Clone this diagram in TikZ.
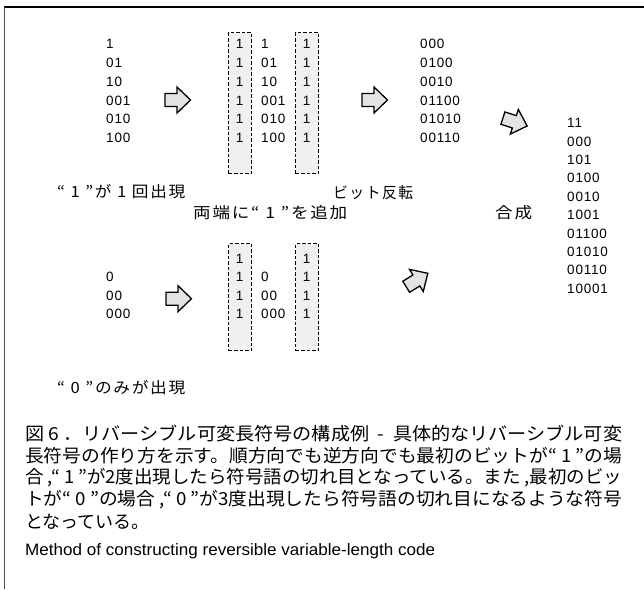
\documentclass[tikz,border=0pt]{standalone}
\usepackage{fontspec}
\usepackage{graphicx}
\setmainfont{Liberation Sans}
\newfontfamily\jpfont{Noto Sans CJK JP}
\newfontfamily\jpspfont[LetterSpace=10]{Noto Sans CJK JP}
\newfontfamily\digitfont[LetterSpace=6]{Liberation Sans}
\newcommand\codefont{\digitfont\fontsize{13.5}{16}\selectfont}
\newcommand\labfont{\jpspfont\fontsize{15.5}{18}\selectfont}
\newcommand\capfont{\jpfont\fontsize{18}{21}\selectfont}
\newcommand\fitw[2]{\resizebox{#1}{\height}{#2}}
\tikzset{
  code/.style={anchor=west, inner sep=0pt, font=\codefont},
  one/.style={anchor=center, inner sep=0pt, font=\codefont},
  lab/.style={anchor=west, inner sep=0pt, font=\labfont},
  capline/.style={anchor=west, inner sep=0pt, font=\capfont},
  dbox/.style={draw=black, fill=gray!12, dash pattern=on 3.5pt off 2pt, line width=1.1pt, inner sep=0pt, anchor=north west, minimum width=23pt},
  blockarr/.pic={\draw[black, fill=gray!22, line width=1.3pt, line join=miter]
     (0,-6.5) -- (12,-6.5) -- (12,-13) -- (25.5,0) -- (12,13) -- (12,6.5) -- (0,6.5) -- cycle;}
}
\begin{document}
\begin{tikzpicture}[x=1pt,y=-1pt]
\useasboundingbox (0,0) rectangle (644,589);
% frame
\draw[line width=1.8pt] (4,7) -- (644,7);
\draw[line width=1pt, black!70] (4,7) -- (4,589);
% dashed boxes
\node[dbox, minimum height=141pt] (box1) at (228,32) {};
\node[dbox, minimum height=141pt] (box2) at (295,32) {};
\node[dbox, minimum height=107pt] (box3) at (228,243) {};
\node[dbox, minimum height=107pt] (box4) at (295,243) {};
% top lists
\foreach \t [count=\i from 0] in {1,01,10,001,010,100} {
  \node[code] (a\i) at (106,{44+18.8*\i}) {\t};
  \node[code] (b\i) at (261,{44+18.8*\i}) {\t};
  \node[one] (p\i) at (239.5,{44+18.8*\i}) {1};
  \node[one] (q\i) at (306.5,{44+18.8*\i}) {1};
}
\foreach \t [count=\i from 0] in {000,0100,0010,01100,01010,00110}
  \node[code] (c\i) at (420,{44+18.8*\i}) {\t};
\foreach \t [count=\i from 0] in {11,000,101,0100,0010,1001,01100,01010,00110,10001}
  \node[code] (d\i) at (567,{123+18.4*\i}) {\t};
% bottom lists
\foreach \t [count=\i from 0] in {0,00,000} {
  \node[code] (e\i) at (106,{277+18.4*\i}) {\t};
  \node[code] (g\i) at (261,{277+18.4*\i}) {\t};
}
\foreach \i in {0,1,2,3} {
  \node[one] (f\i) at (239.5,{258.6+18.4*\i}) {1};
  \node[one] (h\i) at (306.5,{258.6+18.4*\i}) {1};
}
% block arrows
\pic at (165,100) {blockarr};
\pic at (362,100) {blockarr};
\pic at (166,298.7) {blockarr};
\pic[rotate=-18] at (502.9,118.1) {blockarr};
\pic[rotate=32] at (406.2,286.8) {blockarr};
% labels
\node[lab] (l1) at (57,192) {\fitw{128pt}{“\,\,1\,\,”が\,\,1\,\,回出現}};
\node[lab] (l2) at (333,193) {\fitw{80pt}{ビット反転}};
\node[lab] (l3) at (193,213) {\fitw{154pt}{両端に“\,\,1\,\,”を追加}};
\node[lab] (l4) at (495,213) {\fitw{37pt}{合成}};
\node[lab] (l5) at (57,388) {\fitw{128pt}{“\,\,0\,\,”のみが出現}};
% caption
\node[capline] (c1) at (25,434) {\fitw{597pt}{図 6 ．リバーシブル可変長符号の構成例 \ - \ 具体的なリバーシブル可変}};
\node[capline] (c2) at (25,456) {\fitw{597pt}{長符号の作り方を示す。順方向でも逆方向でも最初のビットが“ 1 ”の場}};
\node[capline] (c3) at (25,478) {\fitw{597pt}{合 ,“ 1 ”が2度出現したら符号語の切れ目となっている。また ,最初のビッ}};
\node[capline] (c4) at (25,500) {\fitw{597pt}{トが“ 0 ”の場合 ,“ 0 ”が3度出現したら符号語の切れ目になるような符号}};
\node[capline] (c5) at (25,522) {となっている。};
\node[anchor=west, inner sep=0pt, font=\fontsize{16.5}{20}\selectfont] (m1) at (25,551) {\fitw{410pt}{Method of constructing reversible variable-length code}};
\end{tikzpicture}
\end{document}
